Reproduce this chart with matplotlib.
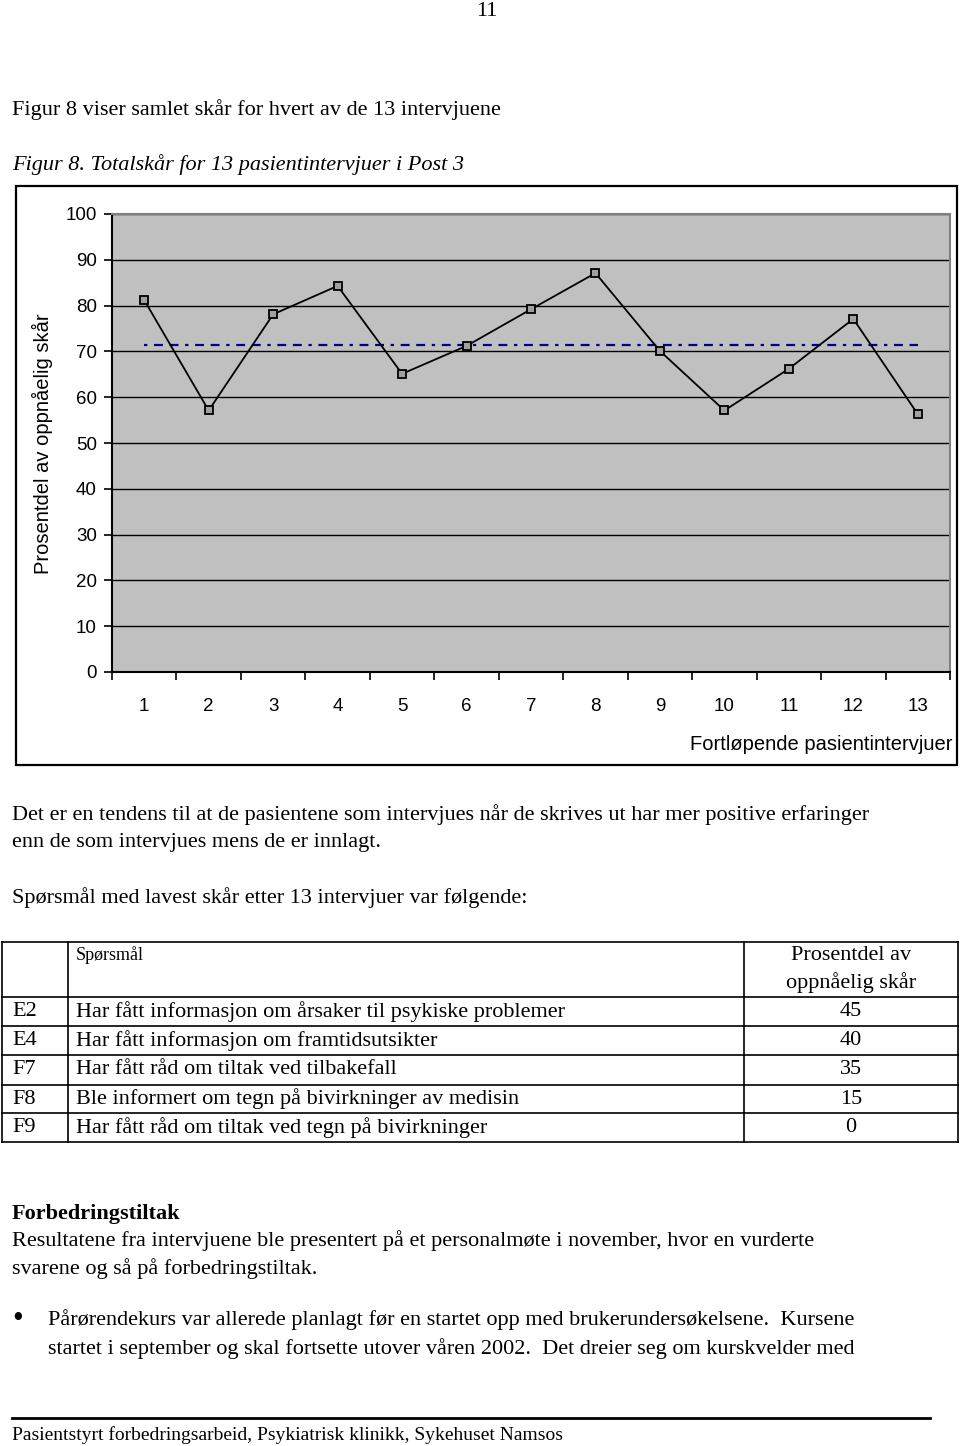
import numpy as np
import matplotlib
matplotlib.use("Agg")
import matplotlib.pyplot as plt
from matplotlib.patches import Rectangle

# data
intervjuer = list(range(1, 14))
skar = [81.2, 57.1, 78.1, 84.3, 65.1, 71.2, 79.2, 87.1, 70.1, 57.1, 66.2, 77.1, 56.3]
snitt = 71.3

koder = ["E2", "E4", "F7", "F8", "F9"]
sporsmal = ["Har fått informasjon om årsaker til psykiske problemer",
            "Har fått informasjon om framtidsutsikter",
            "Har fått råd om tiltak ved tilbakefall",
            "Ble informert om tegn på bivirkninger av medisin",
            "Har fått råd om tiltak ved tegn på bivirkninger"]
prosent = [45, 40, 35, 15, 0]

W, H = 960, 1446
serif = "Liberation Serif"
sans = "Liberation Sans"
fs = 16

fig = plt.figure(figsize=(W / 100, H / 100), dpi=100)

# page axes in pixel coordinates
page = fig.add_axes([0, 0, 1, 1])
page.set_xlim(0, W)
page.set_ylim(H, 0)
page.axis("off")

def txt(x, y, s, **kw):
    kw.setdefault("family", serif)
    kw.setdefault("fontsize", fs)
    kw.setdefault("va", "center")
    page.text(x, y, s, **kw)

txt(487, 12, "11", ha="center")
txt(12, 110, "Figur 8 viser samlet skår for hvert av de 13 intervjuene")
txt(12, 165, "Figur 8. Totalskår for 13 pasientintervjuer i Post 3", style="italic")

# chart frame
page.add_patch(Rectangle((16, 186), 941, 579, fill=False, ec="black", lw=1.6))
page.text(42, 444, "Prosentdel av oppnåelig skår", family=sans, fontsize=14.5,
          rotation=90, ha="center", va="center")
page.text(953, 745, "Fortløpende pasientintervjuer", family=sans, fontsize=14.5,
          ha="right", va="center")

txt(12, 815, "Det er en tendens til at de pasientene som intervjues når de skrives ut har mer positive erfaringer")
txt(12, 842, "enn de som intervjues mens de er innlagt.")
txt(12, 898, "Spørsmål med lavest skår etter 13 intervjuer var følgende:")

# table
rows = [942, 997, 1026, 1055, 1085, 1113, 1142]
for y in rows:
    page.plot([2, 958], [y, y], color="black", lw=1.2)
for x in [2, 68, 744, 958]:
    page.plot([x, x], [rows[0], rows[-1]], color="black", lw=1.2)
txt(76, 955, "Spørsmål", fontsize=13)
txt(851, 956, "Prosentdel av", ha="center")
txt(851, 983, "oppnåelig skår", ha="center")
for i in range(len(koder)):
    yc = (rows[i + 1] + rows[i + 2]) / 2
    txt(12, yc, koder[i])
    txt(76, yc, sporsmal[i])
    txt(851, yc, str(prosent[i]), ha="center")

txt(12, 1214, "Forbedringstiltak", weight="bold")
txt(12, 1241, "Resultatene fra intervjuene ble presentert på et personalmøte i november, hvor en vurderte")
txt(12, 1269, "svarene og så på forbedringstiltak.")
txt(12, 1320, "•", fontsize=22)
txt(48, 1320, "Pårørendekurs var allerede planlagt før en startet opp med brukerundersøkelsene.  Kursene")
txt(48, 1349, "startet i september og skal fortsette utover våren 2002.  Det dreier seg om kurskvelder med")

page.plot([12, 930], [1418, 1418], color="black", lw=2)
txt(12, 1435, "Pasientstyrt forbedringsarbeid, Psykiatrisk klinikk, Sykehuset Namsos", fontsize=14)

# the chart
ax = fig.add_axes([112 / W, 1 - 672 / H, (950 - 112) / W, (672 - 214) / H])
ax.set_facecolor("#c0c0c0")
ax.set_xlim(0.5, 13.5)
ax.set_ylim(0, 100)
ax.set_yticks(np.arange(0, 101, 10))
ax.yaxis.grid(True, color="black", lw=1)
ax.set_axisbelow(True)
ax.set_xticks(np.arange(0.5, 14, 1))
ax.set_xticklabels([])
ax.set_xticks(intervjuer, minor=True)
ax.set_xticklabels([str(i) for i in intervjuer], minor=True)
ax.tick_params(axis="x", which="major", direction="out", length=6, width=1.2, color="black")
ax.tick_params(axis="x", which="minor", length=0, pad=19)
ax.tick_params(axis="y", direction="out", length=6, width=1.2, pad=5)
for lab in ax.get_yticklabels() + ax.get_xticklabels(minor=True):
    lab.set_family(sans)
    lab.set_fontsize(13.5)
for side in ["left", "bottom"]:
    ax.spines[side].set_color("black")
    ax.spines[side].set_linewidth(1.5)
for side in ["top", "right"]:
    ax.spines[side].set_color("#808080")
    ax.spines[side].set_linewidth(1.5)

ax.plot([intervjuer[0], intervjuer[-1]], [snitt, snitt], color="#000080", lw=1.6,
        dashes=[1.5, 3, 4, 3, 4, 3])
ax.plot(intervjuer, skar, color="black", lw=1.3, marker="s", markersize=5.5,
        markerfacecolor="#a0a0a0", markeredgecolor="black", markeredgewidth=1.3)

fig.savefig("out.png", dpi=100)
